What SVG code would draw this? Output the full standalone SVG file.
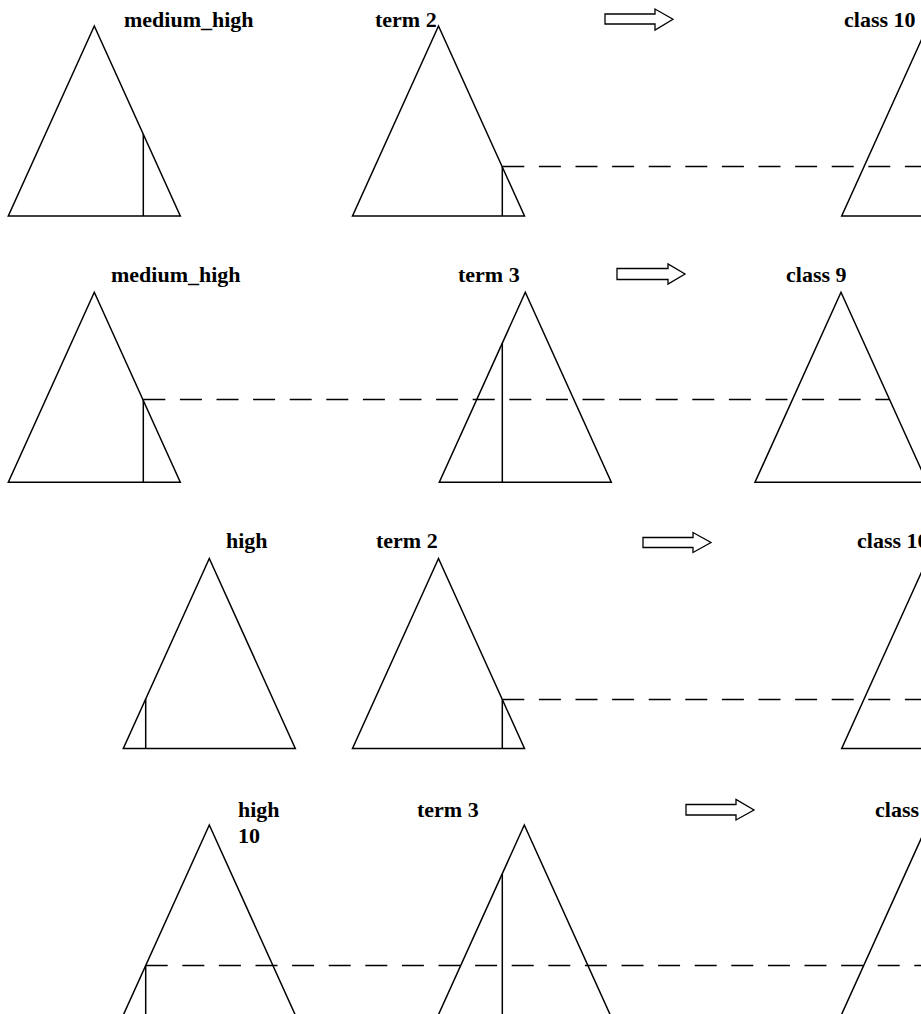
<svg xmlns="http://www.w3.org/2000/svg" width="921" height="1014" viewBox="0 0 921 1014">
<style>
.tri{fill:none;stroke:#000;stroke-width:1.5;stroke-linejoin:miter}
.cut{stroke:#000;stroke-width:1.5;fill:none}
.dash{stroke:#000;stroke-width:1.5;stroke-dasharray:22 14.6;fill:none}
.arr{fill:#fff;stroke:#000;stroke-width:1.3}
.lbl{font-family:"Liberation Serif","Times New Roman",serif;font-weight:bold;font-size:22px;fill:#000}
</style>
<rect width="921" height="1014" fill="#fff"/>

<g id="labels">
<text class="lbl" x="124" y="27">medium_high</text>
<text class="lbl" x="375" y="27">term 2</text>
<text class="lbl" x="844" y="27">class 10</text>
<text class="lbl" x="111" y="282">medium_high</text>
<text class="lbl" x="458" y="282">term 3</text>
<text class="lbl" x="786" y="282">class 9</text>
<text class="lbl" x="226" y="548">high</text>
<text class="lbl" x="376" y="548">term 2</text>
<text class="lbl" x="857" y="548">class 10</text>
<text class="lbl" x="238" y="817">high</text>
<text class="lbl" x="238" y="843">10</text>
<text class="lbl" x="417" y="817">term 3</text>
<text class="lbl" x="875" y="817">class</text>
</g>

<g id="r1-t1"><polygon class="tri" points="94.3,26 180.3,216 8.3,216"/><line class="cut" x1="143.3" y1="134" x2="143.3" y2="216"/></g>
<g id="r1-t2"><polygon class="tri" points="438.5,26 524.5,216 352.5,216"/><line class="cut" x1="502.3" y1="166.5" x2="502.3" y2="216"/></g>
<g id="r1-t3"><polygon class="tri" points="927.7,26 1013.7,216 841.7,216"/></g>

<g id="r2-t1"><polygon class="tri" points="94.3,292.3 180.3,482.3 8.3,482.3"/><line class="cut" x1="143.3" y1="399.5" x2="143.3" y2="482.3"/></g>
<g id="r2-t2"><polygon class="tri" points="525.3,292.3 611.3,482.3 439.3,482.3"/><line class="cut" x1="502.3" y1="343" x2="502.3" y2="482.3"/></g>
<g id="r2-t3"><polygon class="tri" points="841,292.3 927,482.3 755,482.3"/></g>

<g id="r3-t1"><polygon class="tri" points="209.3,558.5 295.3,748.5 123.3,748.5"/><line class="cut" x1="145.7" y1="699" x2="145.7" y2="748.5"/></g>
<g id="r3-t2"><polygon class="tri" points="438.5,558.5 524.5,748.5 352.5,748.5"/><line class="cut" x1="502.3" y1="699.5" x2="502.3" y2="748.5"/></g>
<g id="r3-t3"><polygon class="tri" points="927.7,558.5 1013.7,748.5 841.7,748.5"/></g>

<g id="r4-t1"><polygon class="tri" points="209.3,825 295.3,1015 123.3,1015"/><line class="cut" x1="145.7" y1="965.5" x2="145.7" y2="1015"/></g>
<g id="r4-t2"><polygon class="tri" points="524.3,825 610.3,1015 438.3,1015"/><line class="cut" x1="502.3" y1="874" x2="502.3" y2="1015"/></g>
<g id="r4-t3"><polygon class="tri" points="927.3,825 1013.3,1015 841.3,1015"/></g>

<g id="arrows">
<polygon class="arr" points="605,14 655,14 655,9 673,19.3 655,30 655,24 605,24"/>
<polygon class="arr" points="617,268.5 668,268.5 668,264 685,274 668,284 668,279.5 617,279.5"/>
<polygon class="arr" points="643,537.5 693,537.5 693,532.5 711,542.5 693,552.5 693,547.5 643,547.5"/>
<polygon class="arr" points="686,804.5 736,804.5 736,799.5 754,810 736,820 736,815 686,815"/>
</g>

<g id="connectors">
<line class="dash" x1="502.3" y1="166.5" x2="921" y2="166.5"/>
<line class="dash" x1="143.3" y1="399.5" x2="889.5" y2="399.5"/>
<line class="dash" x1="502.3" y1="699.5" x2="921" y2="699.5"/>
<line class="dash" x1="145.7" y1="965.5" x2="921" y2="965.5"/>
</g>
</svg>
